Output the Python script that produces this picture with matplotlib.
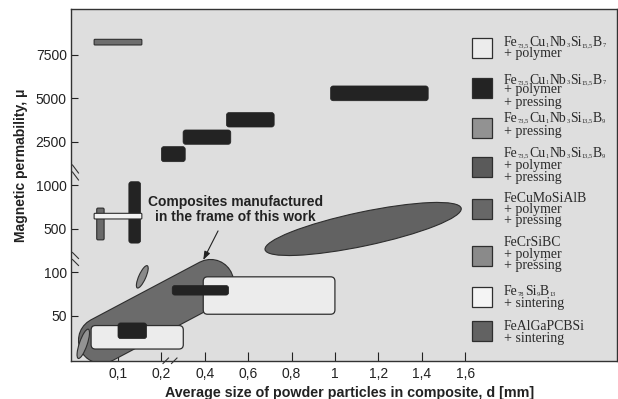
import numpy as np
import matplotlib
matplotlib.use('Agg')
import matplotlib.pyplot as plt
import matplotlib.transforms as mtransforms
import matplotlib.patheffects as pe
from matplotlib.patches import FancyBboxPatch, Ellipse, Rectangle
from matplotlib.lines import Line2D

plt.rcParams['font.family'] = 'Liberation Sans'

# axis ticks (both axes are stretched piecewise between the ticks)
d_ticks = [0.1, 0.2, 0.4, 0.6, 0.8, 1.0, 1.2, 1.4, 1.6]
d_labels = ['0,1', '0,2', '0,4', '0,6', '0,8', '1', '1,2', '1,4', '1,6']
mu_ticks = [50, 100, 500, 1000, 2500, 5000, 7500]
mu_labels = ['50', '100', '500', '1000', '2500', '5000', '7500']

d_knots = [0, 0.1, 0.2, 0.4, 0.6, 0.8, 1.0, 1.2, 1.4, 1.6]
mu_knots = [0, 50, 100, 500, 1000, 2500, 5000, 7500]

# Fe73,5Cu1Nb3Si15,5B7 + polymer + pressing (dark bars)
dark_d0 = [0.20, 0.30, 0.50, 0.98, 0.125, 0.25, 0.10]
dark_d1 = [0.31, 0.52, 0.72, 1.43, 0.152, 0.51, 0.166]
dark_mu0 = [1820, 2420, 3360, 4870, 370, 74, 24]
dark_mu1 = [2340, 3190, 4190, 5720, 1130, 85, 42]

# light boxes (polymer / sintering)
box_d0 = [0.038, 0.393]
box_d1 = [0.301, 1.0]
box_mu0 = [12, 52]
box_mu1 = [39, 95]

# thin light bar
white_d = [0.045, 0.155]
white_mu = [615, 680]

# grey bars
top_d = [0.045, 0.155]
top_mu = [8075, 8400]
vert_d = [0.051, 0.068]
vert_mu = [400, 740]

# composites of this work (band)
band_d = [0.062, 0.427]
band_mu = [22, 88.5]

# ellipse regions: centre d, centre mu
ell_d = [1.13, 0.156, 0.02]
ell_mu = [500, 95, 18]
ell_w = [4.62, 0.56, 0.71]
ell_h = [0.78, 0.16, 0.18]
ell_ang = [11.9, 65.8, 71]
ell_col = ['#626262', '#8a8a8a', '#939393']

# legend: alloy (element, subscript) and processing steps
legend_cols = ['#ececec', '#232323', '#929292', '#5a5a5a', '#676767',
               '#8a8a8a', '#f4f4f4', '#626262']
legend_alloy = [
    [('Fe', '73,5'), ('Cu', '1'), ('Nb', '3'), ('Si', '15,5'), ('B', '7')],
    [('Fe', '73,5'), ('Cu', '1'), ('Nb', '3'), ('Si', '15,5'), ('B', '7')],
    [('Fe', '73,5'), ('Cu', '1'), ('Nb', '3'), ('Si', '13,5'), ('B', '9')],
    [('Fe', '73,5'), ('Cu', '1'), ('Nb', '3'), ('Si', '13,5'), ('B', '9')],
    [('FeCuMoSiAlB', '')],
    [('FeCrSiBC', '')],
    [('Fe', '78'), ('Si', '9'), ('B', '13')],
    [('FeAlGaPCBSi', '')],
]
legend_steps = [['+ polymer'], ['+ polymer', '+ pressing'], ['+ pressing'],
                ['+ polymer', '+ pressing'], ['+ polymer', '+ pressing'],
                ['+ polymer', '+ pressing'], ['+ sintering'], ['+ sintering']]
legend_sq_top = [38, 78, 118, 157, 199, 246, 287, 321]
legend_base = [[46, 57], [83.5, 93.5, 106], [121.7, 135],
               [156.7, 169, 180.7], [201.7, 213.3, 224],
               [246, 258.3, 269.3], [295, 306.7], [330, 341.7]]


def piecewise(knots):
    knots = np.asarray(knots, float)
    idx = np.arange(len(knots), dtype=float)
    lo = knots[1] - knots[0]
    hi = knots[-1] - knots[-2]

    def fwd(x):
        x = np.asarray(x, float)
        y = np.interp(x, knots, idx)
        y = np.where(x < knots[0], (x - knots[0]) / lo, y)
        y = np.where(x > knots[-1], idx[-1] + (x - knots[-1]) / hi, y)
        return y

    def inv(y):
        y = np.asarray(y, float)
        x = np.interp(y, idx, knots)
        x = np.where(y < 0, knots[0] + y * lo, x)
        x = np.where(y > idx[-1], knots[-1] + (y - idx[-1]) * hi, x)
        return x
    return fwd, inv


d_fwd, d_inv = piecewise(d_knots)
mu_fwd, mu_inv = piecewise(mu_knots)

fig = plt.figure(figsize=(6.18, 3.99), dpi=100)
ax = fig.add_axes([71 / 618, 1 - 361 / 399, 545.5 / 618, 352 / 399])
ax.set_facecolor('#dedede')
ax.set_xscale('function', functions=(d_fwd, d_inv))
ax.set_yscale('function', functions=(mu_fwd, mu_inv))
ax.set_xlim(d_inv(-0.083), d_inv(12.49))
ax.set_ylim(mu_inv(-0.035), mu_inv(8.057))

# scaled (position) coordinates, so round shapes stay round
pos = ax.transLimits + ax.transAxes
# pixel coordinates from the top-left corner
pix = mtransforms.Affine2D().scale(1 / 618, -1 / 399).translate(0, 1) + fig.transFigure


def rbox(d0, d1, m0, m1, r, **kw):
    u0, u1 = d_fwd([d0, d1])
    v0, v1 = mu_fwd([m0, m1])
    p = FancyBboxPatch((u0, v0), u1 - u0, v1 - v0,
                       boxstyle='round,pad=0,rounding_size=%g' % r,
                       transform=pos, **kw)
    ax.add_patch(p)


# band of composites made in this work
ax.plot(band_d, band_mu, color='#6b6b6b', lw=32.4, solid_capstyle='round', zorder=2,
        path_effects=[pe.Stroke(linewidth=34, foreground='#2e2e2e'), pe.Normal()])

for i in range(len(ell_d)):
    e = Ellipse((float(d_fwd(ell_d[i])), float(mu_fwd(ell_mu[i]))), ell_w[i], ell_h[i],
                angle=ell_ang[i], facecolor=ell_col[i], edgecolor='#2e2e2e', lw=0.8,
                transform=pos, zorder=3)
    ax.add_patch(e)

for i in range(len(box_d0)):
    rbox(box_d0[i], box_d1[i], box_mu0[i], box_mu1[i], 0.1,
         facecolor='#ececec', edgecolor='#2e2e2e', lw=0.9, zorder=3)

rbox(top_d[0], top_d[1], top_mu[0], top_mu[1], 0.02,
     facecolor='#6e6e6e', edgecolor='#2e2e2e', lw=0.8, zorder=4)
rbox(vert_d[0], vert_d[1], vert_mu[0], vert_mu[1], 0.03,
     facecolor='#6a6a6a', edgecolor='#2e2e2e', lw=0.8, zorder=4)

for i in range(len(dark_d0)):
    rbox(dark_d0[i], dark_d1[i], dark_mu0[i], dark_mu1[i], 0.06,
         facecolor='#232323', edgecolor='#232323', lw=0.5, zorder=5)

rbox(white_d[0], white_d[1], white_mu[0], white_mu[1], 0.02,
     facecolor='#f2f2f2', edgecolor='#2e2e2e', lw=0.8, zorder=6)

ax.annotate('Composites manufactured\nin the frame of this work',
            xy=(0.393, 215), xytext=(0.3013, 0.4301), textcoords='axes fraction',
            ha='center', va='center', fontsize=10, fontweight='bold', color='#222222',
            linespacing=1.15, zorder=7,
            arrowprops=dict(arrowstyle='-|>,head_length=0.5,head_width=0.18',
                            color='#222222', lw=0.8, relpos=(0.42, 0.0),
                            shrinkA=3, shrinkB=0))

ax.set_xticks(d_ticks)
ax.set_xticklabels(d_labels)
ax.set_yticks(mu_ticks)
ax.set_yticklabels(mu_labels)
ax.minorticks_off()
ax.tick_params(axis='both', direction='in', labelsize=10, colors='#222222', width=0.8)
ax.tick_params(axis='x', length=6.5, pad=4)
ax.tick_params(axis='y', length=5, pad=3)
for s in ax.spines.values():
    s.set_color('#333333')
    s.set_linewidth(1.0)

ax.set_xlabel('Average size of powder particles in composite, d [mm]',
              fontsize=10.3, fontweight='bold', color='#222222')
ax.xaxis.set_label_coords(0.511, -0.071)
ax.set_ylabel('Magnetic permability, μ', fontsize=10, fontweight='bold', color='#222222')
ax.yaxis.set_label_coords(-0.079, 0.557)

# axis break marks
breaks = [((72.5, 165), (78.5, 173)), ((72.5, 172), (78.5, 180)),
          ((72.5, 252.5), (78.5, 258.5)), ((72.5, 259.5), (78.5, 265.5)),
          ((163, 363.5), (168.5, 358)), ((171.5, 363.5), (177, 358))]
for (x0, y0), (x1, y1) in breaks:
    fig.add_artist(Line2D([x0, x1], [y0, y1], color='#333333', lw=0.8, transform=pix))

# legend, alloy formulas set with small subscripts
renderer = fig.canvas.get_renderer()
serif = dict(family='Liberation Serif', color='#2a2a2a', va='baseline', ha='left',
             transform=pix)


def formula(x, y, parts):
    for el, sub in parts:
        t = fig.text(x, y, el, fontsize=9.9, **serif)
        x += t.get_window_extent(renderer).width
        if sub:
            s = fig.text(x + 0.2, y + 1.0, sub, fontsize=4.6, **serif)
            x += s.get_window_extent(renderer).width + 0.6


for i, col in enumerate(legend_cols):
    fig.add_artist(Rectangle((472, legend_sq_top[i]), 20, 20, facecolor=col,
                             edgecolor='#2e2e2e', lw=0.9, transform=pix))
    formula(504, legend_base[i][0], legend_alloy[i])
    for line, yb in zip(legend_steps[i], legend_base[i][1:]):
        fig.text(504, yb, line, fontsize=10, **serif)

fig.savefig('out.png', dpi=100)
